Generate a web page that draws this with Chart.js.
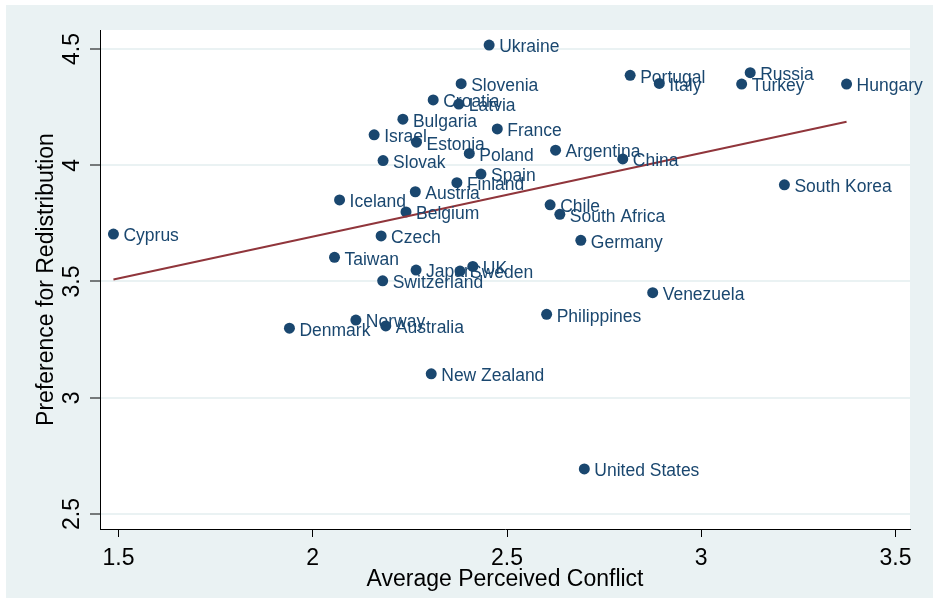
<!DOCTYPE html>
<html>
<head>
<meta charset="utf-8">
<script src="https://cdn.jsdelivr.net/npm/chart.js@4/dist/chart.umd.min.js"></script>
<style>
  html, body { margin: 0; padding: 0; background: #fff; }
  #wrap { width: 933px; height: 598px; }
</style>
</head>
<body>
<div id="wrap"><canvas id="chart" width="933" height="598"></canvas></div>
<script>
// country labels and values
var countries = ['Ukraine','Slovenia','Croatia','Latvia','Bulgaria','Israel','Estonia','France','Poland','Argentina',
  'Slovak','Spain','Finland','Austria','Iceland','Belgium','Czech','Taiwan','Japan','Sweden',
  'UK','Switzerland','Chile','South Africa','Germany','China','Portugal','Italy','Russia','Turkey',
  'Hungary','South Korea','Cyprus','Venezuela','Philippines','Denmark','Norway','Australia','New Zealand','United States'];
var conflict = [2.454,2.382,2.310,2.376,2.232,2.158,2.267,2.475,2.403,2.625,
  2.181,2.433,2.371,2.264,2.069,2.240,2.176,2.056,2.266,2.379,
  2.412,2.180,2.611,2.636,2.690,2.798,2.817,2.892,3.126,3.104,
  3.374,3.214,1.487,2.875,2.602,1.940,2.111,2.188,2.305,2.699];
var redistribution = [4.517,4.351,4.281,4.263,4.198,4.131,4.099,4.156,4.051,4.065,
  4.020,3.962,3.925,3.886,3.851,3.799,3.696,3.604,3.549,3.545,
  3.565,3.503,3.830,3.789,3.677,4.027,4.387,4.352,4.398,4.349,
  4.349,3.916,3.704,3.452,3.359,3.299,3.334,3.309,3.103,2.694];
// fitted line end points
var fitX = [1.487, 3.374];
var fitY = [3.509, 4.187];
var xTicks = [1.5, 2, 2.5, 3, 3.5];
var yTicks = [2.5, 3, 3.5, 4, 4.5];

var navy = '#1a476f';
var maroon = '#90353b';
var bluish = '#eaf2f3';
var fontName = '"Liberation Sans", Arial, Helvetica, sans-serif';

var points = conflict.map(function(v, i) { return {x: v, y: redistribution[i]}; });
var fitPoints = fitX.map(function(v, i) { return {x: v, y: fitY[i]}; });

var backPlugin = {
  id: 'back',
  beforeDraw: function(chart) {
    var c = chart.ctx, a = chart.chartArea;
    c.save();
    c.fillStyle = '#ffffff';
    c.fillRect(0, 0, chart.width, chart.height);
    c.fillStyle = bluish;
    c.fillRect(6, 5, chart.width - 6, chart.height - 5);
    c.fillStyle = '#ffffff';
    c.fillRect(a.left, a.top, a.right - a.left, a.bottom - a.top);
    c.restore();
  }
};

var labelPlugin = {
  id: 'marklabels',
  afterDatasetsDraw: function(chart) {
    var c = chart.ctx;
    var meta = chart.getDatasetMeta(1);
    c.save();
    c.font = '17.5px ' + fontName;
    c.fillStyle = navy;
    c.textAlign = 'left';
    c.textBaseline = 'middle';
    meta.data.forEach(function(el, i) {
      c.fillText(countries[i], el.x + 10, el.y + 2.5);
    });
    // y tick labels, vertical like the original
    var ys = chart.scales.y;
    c.font = '23px ' + fontName;
    c.fillStyle = '#000';
    c.textAlign = 'center';
    yTicks.forEach(function(v) {
      c.save();
      c.translate(73, ys.getPixelForValue(v));
      c.rotate(-Math.PI / 2);
      c.fillText(String(v), 0, 0);
      c.restore();
    });
    c.restore();
  }
};

new Chart(document.getElementById('chart'), {
  type: 'scatter',
  data: {
    datasets: [{
      type: 'line',
      data: fitPoints,
      borderColor: maroon,
      borderWidth: 2,
      pointRadius: 0,
      fill: false
    }, {
      data: points,
      backgroundColor: navy,
      borderColor: navy,
      borderWidth: 0,
      pointRadius: 5.5,
      pointHoverRadius: 5.5
    }]
  },
  options: {
    responsive: false,
    animation: false,
    events: [],
    layout: { padding: { top: 30, right: 23, left: 0, bottom: 0 } },
    plugins: { legend: { display: false }, tooltip: { enabled: false } },
    scales: {
      x: {
        type: 'linear',
        min: 1.4524,
        max: 3.5373,
        afterBuildTicks: function(s) { s.ticks = xTicks.map(function(v) { return {value: v}; }); },
        afterFit: function(s) { s.height = 69; },
        grid: { drawOnChartArea: false, tickLength: 8, tickColor: '#000', tickWidth: 1 },
        border: { color: '#000', width: 1 },
        ticks: {
          color: '#000',
          font: { family: fontName, size: 23 },
          padding: 8,
          maxRotation: 0,
          callback: function(v) { return String(v); }
        },
        title: {
          display: true,
          text: 'Average Perceived Conflict',
          color: '#000',
          font: { family: fontName, size: 23 },
          padding: { top: 0, bottom: 5 }
        }
      },
      y: {
        type: 'linear',
        min: 2.4355,
        max: 4.5817,
        afterBuildTicks: function(s) { s.ticks = yTicks.map(function(v) { return {value: v}; }); },
        afterFit: function(s) { s.width = 100; },
        grid: { color: bluish, lineWidth: 2, tickLength: 10, tickColor: '#000', tickWidth: 1 },
        border: { color: '#000', width: 1 },
        ticks: { display: false },
        title: {
          display: true,
          text: 'Preference for Redistribution',
          color: '#000',
          font: { family: fontName, size: 23 },
          padding: { top: 33, bottom: 0 }
        }
      }
    }
  },
  plugins: [backPlugin, labelPlugin]
});
</script>
</body>
</html>
